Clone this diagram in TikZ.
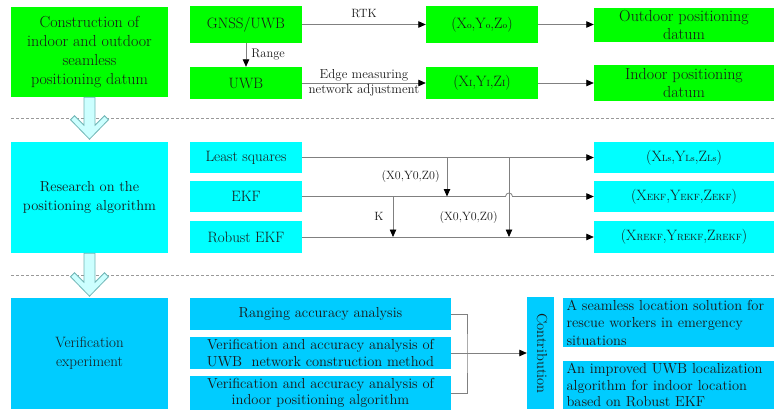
\documentclass[tikz,border=0pt]{standalone}
\usetikzlibrary{arrows.meta,calc}
\definecolor{grn}{HTML}{00FF00}
\definecolor{cyn}{HTML}{00FFFF}
\definecolor{blu}{HTML}{00CCFF}
\definecolor{harrowfill}{HTML}{CCFFFF}
\definecolor{harrowline}{HTML}{6FB5B5}
\definecolor{conn}{HTML}{808080}
\newcommand\sbx[1]{{\fontsize{9}{9}\selectfont #1}}
\newcommand\fs[2]{\fontsize{#1}{#2}\selectfont}
\begin{document}
\begin{tikzpicture}[x=1pt,y=-1pt,
  box/.style={inner sep=2pt, align=center, text=black!90},
  big/.style={box, minimum width=157pt},
  sm/.style={box, minimum width=112pt, font=\fs{15}{18}},
  res/.style={box, minimum width=180pt},
  wide/.style={box, minimum width=261pt, minimum height=32pt, fill=blu, font=\fs{14.5}{16.7}},
  cbox/.style={box, fill=blu, minimum width=211pt, text width=204pt, align=left, inner xsep=3.5pt},
  connline/.style={draw=conn, line width=0.8pt},
  arr/.style={connline, -{Triangle[length=7.5pt,width=6.5pt,color=black]}},
  lbl/.style={inner sep=0pt, font=\fs{12}{14}, text=black!90},
  sepline/.style={draw=black!40, dash pattern=on 3pt off 2pt, line width=0.6pt},
  hollow/.style={fill=harrowfill, draw=harrowline, line width=0.8pt, line join=miter}]
\useasboundingbox (0,0) rectangle (784,420);

% separators
\draw[sepline] (11,118) -- (774,118);
\draw[sepline] (11,275) -- (774,275);

% ---------- section 1 ----------
\node[big, fill=grn, minimum height=90pt, font=\fs{16}{19.3}] (A) at (89.5,52)
  {Construction of\\indoor and outdoor\\seamless\\positioning datum};
\node[sm, fill=grn, minimum height=37pt] (gnss) at (246,24.5) {GNSS/UWB};
\node[sm, fill=grn, minimum height=32pt] (uwb) at (246,83) {UWB};
\node[sm, fill=grn, minimum height=37pt] (xo) at (482,24.5) {(X\sbx{o},Y\sbx{o},Z\sbx{o})};
\node[res, fill=grn, minimum height=34pt, font=\fs{16}{18}] (out) at (684,25) {Outdoor positioning\\datum};
\node[sm, fill=grn, minimum height=32pt] (xi) at (482,83) {(X\sbx{I},Y\sbx{I},Z\sbx{I})};
\node[res, fill=grn, minimum height=36pt, font=\fs{16}{18}] (ind) at (684,83) {Indoor positioning\\datum};

\draw[arr] (gnss.east) -- node[lbl, above=6pt]{RTK} (xo.west);
\draw[arr] (xo.east) -- (xo.east -| out.west);
\draw[arr] (gnss.south) -- node[lbl, right=5pt, font=\fs{12.5}{14}]{Range} (uwb.north);
\draw[arr] (uwb.east) -- node[lbl, font=\fs{13}{15.6}, align=center]{Edge measuring\\network adjustment} (xi.west);
\draw[arr] (xi.east) -- (ind.west);

% ---------- section 2 ----------
\node[big, fill=cyn, minimum height=111pt, font=\fs{14.5}{19.5}] (B) at (89.5,197.5)
  {Research on the\\positioning algorithm};
\node[sm, fill=cyn, minimum height=31pt] (ls) at (246,157.5) {Least squares};
\node[sm, fill=cyn, minimum height=31pt] (ekf) at (246,196.5) {EKF};
\node[sm, fill=cyn, minimum height=32pt] (rekf) at (246,237) {Robust EKF};
\node[res, fill=cyn, minimum height=31pt, font=\fs{15}{18}] (rls) at (684,157.5) {(X\sbx{Ls},Y\sbx{Ls},Z\sbx{Ls})};
\node[res, fill=cyn, minimum height=31pt, font=\fs{15}{18}] (rekfo) at (684,196.5) {(X\sbx{EKF},Y\sbx{EKF},Z\sbx{EKF})};
\node[res, fill=cyn, minimum height=32pt, font=\fs{15}{18}] (rrekf) at (684,237) {(X\sbx{REKF},Y\sbx{REKF},Z\sbx{REKF})};

\coordinate (v1) at (447,157.5);
\coordinate (v2) at (509,157.5);
\coordinate (k1) at (393,196.5);

\draw[arr] (ls.east) -- (rls.west);
\draw[arr] (ekf.east) -- ($(v2 |- ekf.east)+(-3.5,0)$) arc[start angle=180, end angle=360, radius=3.5] -- (rekfo.west);
\draw[arr] (rekf.east) -- (rrekf.west);
\draw[arr] (v1) -- node[lbl, left=7pt]{(X0,Y0,Z0)} (v1 |- ekf.east);
\draw[arr] (k1) -- node[lbl, left=9pt]{K} (k1 |- rekf.east);
\draw[arr] (v2) -- node[lbl, pos=0.76, left=11pt]{(X0,Y0,Z0)} (v2 |- rekf.east);

% ---------- section 3 ----------
\node[big, fill=blu, minimum height=111pt, font=\fs{15}{18.7}] (C) at (89.5,353.5)
  {Verification\\experiment};
\node[wide] (r1) at (320.5,314) {Ranging accuracy analysis};
\node[wide] (r2) at (320.5,353) {Verification and accuracy analysis of\\UWB\ \ network construction method};
\node[wide] (r3) at (320.5,393) {Verification and accuracy analysis of\\indoor positioning algorithm};
\node[fill=blu, minimum width=27pt, minimum height=112pt, inner sep=0pt] (ct) at (540.5,353) {};
\node[rotate=-90, inner sep=0pt, font=\fs{14.5}{17}, text=black!90] (ctl) at (542,353.5) {Contribution};
\node[cbox, minimum height=49pt, font=\fs{14.5}{17.5}] (c1) at (668.5,322.5)
  {A seamless location solution for\\rescue workers in emergency\\situations};
\node[cbox, minimum height=48pt, font=\fs{14.5}{16.7}] (c2) at (668.5,385)
  {An improved UWB localization\\algorithm for indoor location\\based on Robust EKF};

\coordinate (j) at (467,353);
\draw[connline] (r1.east) -| (j) |- (r3.east);
\draw[arr] (r2.east) -- (ct.west);

% ---------- block arrows ----------
\draw[hollow] (A.south) ++(-5.5,0) -- ++(0,28) -- ++(-9.5,-9.5) -- ++(-4,4) -- ++(19,19.5)
  -- ++(19,-19.5) -- ++(-4,-4) -- ++(-9.5,9.5) -- ++(0,-28) -- cycle;
\draw[hollow] (B.south) ++(-5.5,0) -- ++(0,29) -- ++(-9.5,-9.5) -- ++(-4,4) -- ++(19,19.5)
  -- ++(19,-19.5) -- ++(-4,-4) -- ++(-9.5,9.5) -- ++(0,-29) -- cycle;
\end{tikzpicture}
\end{document}
